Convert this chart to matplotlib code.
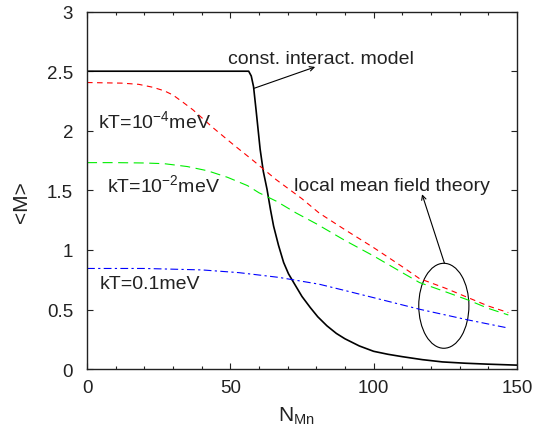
import matplotlib
matplotlib.use("Agg")
import matplotlib.pyplot as plt
from matplotlib.patches import Ellipse
from matplotlib.ticker import MultipleLocator

plt.rcParams['font.family'] = ['Liberation Sans', 'DejaVu Sans']
plt.rcParams['mathtext.fontset'] = 'custom'
plt.rcParams['mathtext.rm'] = 'Liberation Sans'
plt.rcParams['mathtext.it'] = 'Liberation Sans'
plt.rcParams['mathtext.default'] = 'regular'

# valeurs
n_const = [0, 56.4, 57.3, 58.1, 59, 60.4, 61.5, 62.8, 64, 65.1, 66.8, 68.6, 70.3,
           72.1, 75, 77.9, 80.5, 83.7, 87, 90, 95, 100, 105, 110, 117, 124, 132, 140, 150]
m_const = [2.5, 2.5, 2.46, 2.37, 2.17, 1.845, 1.66, 1.51, 1.34, 1.20, 1.04, 0.895, 0.80,
           0.727, 0.61, 0.517, 0.44, 0.364, 0.30, 0.255, 0.195, 0.15, 0.125, 0.105, 0.08,
           0.061, 0.05, 0.042, 0.034]

n_red = [0, 12, 18, 23, 27, 30, 34, 37, 44, 51, 58, 66, 75, 81, 90, 100, 110, 116, 125,
         133, 140, 147]
m_red = [2.405, 2.40, 2.39, 2.365, 2.335, 2.30, 2.23, 2.175, 2.025, 1.885, 1.75, 1.59,
         1.43, 1.31, 1.17, 1.02, 0.86, 0.76, 0.68, 0.60, 0.53, 0.475]

n_green = [0, 10, 20, 27, 35, 42, 49, 56, 60, 66, 73, 80, 90, 100, 110, 116, 125, 133, 140, 147]
m_green = [1.733, 1.733, 1.73, 1.724, 1.70, 1.665, 1.61, 1.54, 1.48, 1.41, 1.31, 1.22,
           1.08, 0.95, 0.81, 0.727, 0.65, 0.58, 0.51, 0.455]

n_blue = [0, 20, 40, 53, 60, 67, 81, 90, 100, 116, 133, 146]
m_blue = [0.845, 0.845, 0.833, 0.81, 0.79, 0.77, 0.713, 0.66, 0.60, 0.503, 0.413, 0.35]

txt = '#222222'
fig = plt.figure(figsize=(5.34, 4.35), dpi=100)
ax = fig.add_axes([0.163, 0.149, 0.805, 0.822])

ax.plot(n_const, m_const, color='black', lw=1.2)
ax.plot(n_red, m_red, color='#ff0000', lw=0.8, dashes=(5, 4))
ax.plot(n_green, m_green, color='#00ee00', lw=0.8, dashes=(9, 5))
ax.plot(n_blue, m_blue, color='#0000ff', lw=0.8, dashes=(7, 3, 2, 3))

ax.add_patch(Ellipse((124.5, 0.532), 17.5, 0.713, fill=False, ec='black', lw=0.8))

fs = 14
ax.text(49.25, 2.573, 'const. interact. model', fontsize=fs, color=txt, va='baseline')
ax.text(3.85, 2.03, 'kT=10$^{-4}$meV', fontsize=fs, color=txt, va='baseline')
ax.text(6.9, 1.496, 'kT=10$^{-2}$meV', fontsize=fs, color=txt, va='baseline')
ax.text(4.5, 0.685, 'kT=0.1meV', fontsize=fs, color=txt, va='baseline')
ax.text(72.1, 1.504, 'local mean field theory', fontsize=fs, color=txt, va='baseline')

arrow = dict(arrowstyle='->', color='black', lw=0.8, shrinkA=0, shrinkB=0,
             mutation_scale=8)
ax.annotate('', xy=(79.6, 2.536), xytext=(58.1, 2.355), arrowprops=arrow)
ax.annotate('', xy=(116.9, 1.468), xytext=(124.7, 0.89), arrowprops=arrow)

ax.set_xlim(0, 150)
ax.set_ylim(0, 3)
ax.xaxis.set_major_locator(MultipleLocator(50))
ax.xaxis.set_minor_locator(MultipleLocator(10))
ax.set_yticks([0, 0.5, 1, 1.5, 2, 2.5, 3])
ax.set_yticklabels(['0', '0.5', '1', '1.5', '2', '2.5', '3'])
ax.tick_params(which='both', direction='in', top=True, right=True,
               labelsize=13.5, labelcolor=txt, color='#222222', width=0.8)
ax.tick_params(which='major', length=4.5)
ax.tick_params(which='minor', length=2.5)
ax.tick_params(axis='y', pad=10)
ax.tick_params(axis='x', pad=7)
for s in ax.spines.values():
    s.set_linewidth(1.0)
    s.set_color('#222222')

ax.set_ylabel('<M>', fontsize=15, color=txt, va='center')
ax.yaxis.set_label_coords(-0.152, 0.47)
ax.set_xlabel('N$_{Mn}$', fontsize=15, color=txt)
ax.xaxis.set_label_coords(0.486, -0.1)

fig.savefig('out.png', dpi=100)
